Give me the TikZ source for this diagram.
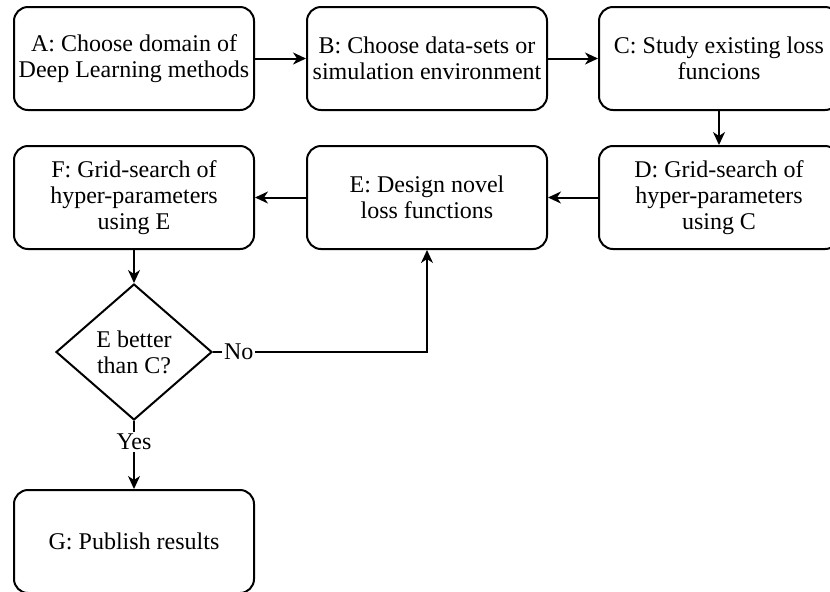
\documentclass[tikz,border=0pt]{standalone}
\usepackage{fontspec}
\setmainfont{Liberation Serif}
\usetikzlibrary{shapes,arrows,positioning,calc,arrows.meta}

\begin{document}
\begin{tikzpicture}[x=0.5pt, y=-0.5pt,
    txt/.style={font=\fontsize{12}{13}\selectfont},
    procbox/.style={txt, draw, line width=1pt, rounded corners=7pt, minimum width=120pt, minimum height=51.5pt, align=center, inner sep=2pt},
    decision/.style={txt, draw, line width=1pt, diamond, minimum width=78pt, minimum height=68pt, inner sep=0pt, align=center},
    flow/.style={line width=1pt, -{Stealth[length=6.5pt,width=6pt,inset=2pt]}},
    lbl/.style={txt, fill=white, inner sep=1pt}]
    \useasboundingbox (0,0) rectangle (830,591);
    % top row
    \node[procbox] (A) at (134,58.5) {A: Choose domain of\\Deep Learning methods};
    \node[procbox] (B) at (427,58.5) {B: Choose data-sets or\\simulation environment};
    \node[procbox] (C) at (719,58.5) {C: Study existing loss\\funcions};
    % second row
    \node[procbox] (D) at (719,197.5) {D: Grid-search of\\hyper-parameters\\using C};
    \node[procbox] (E) at (427,197.5) {E: Design novel\\loss functions};
    \node[procbox] (F) at (134,197.5) {F: Grid-search of\\hyper-parameters\\using E};
    % decision and result
    \node[decision] (check) at (134,352) {E better\\than C?};
    \node[procbox] (G) at (134,541.5) {G: Publish results};
    \draw[flow] (A) -- (B);
    \draw[flow] (B) -- (C);
    \draw[flow] (C) -- (D);
    \draw[flow] (D) -- (E);
    \draw[flow] (E) -- (F);
    \draw[flow] (F) -- (check);
    \draw[flow] (check.east) -| node[lbl, pos=0.06] {No} (E.south);
    \draw[flow] (check) -- node[lbl, pos=0.31] {Yes} (G);
\end{tikzpicture}
\end{document}
